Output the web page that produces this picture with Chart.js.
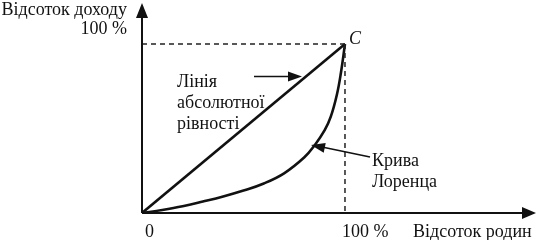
<!DOCTYPE html>
<html><head><meta charset="utf-8">
<style>html,body{margin:0;padding:0;background:#fff}#wrap{width:538px;height:240px}</style>
<script src="https://cdn.jsdelivr.net/npm/chart.js@4/dist/chart.umd.min.js"></script>
</head><body><div id="wrap"><canvas id="c" width="538" height="240"></canvas></div>
<script>
// Data
const familyShare = [0, 10, 20, 30, 40, 50, 60, 70, 80, 85, 90, 93, 96, 98, 100];
const incomeShare = [0, 1.8, 4, 6.8, 9.8, 13.3, 17.5, 23.5, 33, 40, 49, 57, 70, 83, 100];
const equalityX = [0, 100];
const equalityY = [0, 100];
const xTickLabels = ['0', '100 %'];
const yTickLabels = ['100 %'];
const xAxisTitle = 'Відсоток родин';
const yAxisTitle = 'Відсоток доходу';
const equalityLabel = ['Лінія', 'абсолютної', 'рівності'];
const lorenzLabel = ['Крива', 'Лоренца'];
const pointLabel = 'C';

const F = '"Liberation Serif", "Times New Roman", serif';
const pts = (xs, ys) => xs.map((x, i) => ({x, y: ys[i]}));

function arrowHead(ctx, x1, y1, x2, y2, len, half) {
  const a = Math.atan2(y2 - y1, x2 - x1);
  ctx.beginPath();
  ctx.moveTo(x2, y2);
  ctx.lineTo(x2 - len * Math.cos(a) + half * Math.sin(a), y2 - len * Math.sin(a) - half * Math.cos(a));
  ctx.lineTo(x2 - len * Math.cos(a) - half * Math.sin(a), y2 - len * Math.sin(a) + half * Math.cos(a));
  ctx.closePath();
  ctx.fill();
}

const decor = {
  id: 'decor',
  afterDatasetsDraw(chart) {
    const ctx = chart.ctx, xs = chart.scales.x, ys = chart.scales.y;
    const X = v => xs.getPixelForValue(v), Y = v => ys.getPixelForValue(v);
    const ox = X(0), oy = Y(0);
    ctx.save();
    ctx.strokeStyle = '#111'; ctx.fillStyle = '#111';
    ctx.lineWidth = 2;
    // axes
    ctx.beginPath(); ctx.moveTo(ox, oy); ctx.lineTo(xs.right - 10, oy); ctx.stroke();
    ctx.beginPath(); ctx.moveTo(ox, oy); ctx.lineTo(ox, ys.top + 10); ctx.stroke();
    arrowHead(ctx, ox, oy, xs.right, oy, 14, 6);
    arrowHead(ctx, ox, oy, ox, ys.top, 15, 6);
    // annotation arrows
    ctx.lineWidth = 1.6;
    ctx.beginPath(); ctx.moveTo(254, 76.5); ctx.lineTo(290, 76.5); ctx.stroke();
    arrowHead(ctx, 254, 76.5, 302, 76.5, 14, 5);
    ctx.beginPath(); ctx.moveTo(370, 157); ctx.lineTo(322, 147); ctx.stroke();
    arrowHead(ctx, 370, 157, 311, 145, 14, 5);
    // texts
    ctx.font = '18px ' + F;
    ctx.textBaseline = 'middle';
    ctx.textAlign = 'right';
    ctx.fillText(yAxisTitle, ox - 15, 10);
    ctx.fillText(yTickLabels[0], ox - 15, 29);
    ctx.textAlign = 'left';
    ctx.fillText(xTickLabels[0], ox + 3, 232);
    ctx.fillText(xTickLabels[1], X(100) - 3, 232);
    ctx.fillText(xAxisTitle, 413, 232);
    equalityLabel.forEach((t, i) => ctx.fillText(t, 177, 82 + i * 21));
    lorenzLabel.forEach((t, i) => ctx.fillText(t, 372, 161 + i * 21));
    ctx.font = 'italic 18px ' + F;
    ctx.fillText(pointLabel, X(100) + 4, Y(100) - 5);
    ctx.restore();
  }
};

new Chart(document.getElementById('c'), {
  type: 'scatter',
  data: {
    datasets: [
      { data: [{x: 0, y: 100}, {x: 100, y: 100}], showLine: true, borderColor: '#222', borderWidth: 1.5, borderDash: [5, 4], pointRadius: 0 },
      { data: [{x: 100, y: 100}, {x: 100, y: 0}], showLine: true, borderColor: '#222', borderWidth: 1.5, borderDash: [5, 4], pointRadius: 0 },
      { data: pts(equalityX, equalityY), showLine: true, borderColor: '#111', borderWidth: 2.6, pointRadius: 0 },
      { data: pts(familyShare, incomeShare), showLine: true, borderColor: '#111', borderWidth: 2.6, pointRadius: 0, tension: 0.4 }
    ]
  },
  options: {
    responsive: false, animation: false, devicePixelRatio: 1,
    layout: { padding: { left: 142, right: 2, top: 3, bottom: 27 } },
    plugins: { legend: { display: false }, tooltip: { enabled: false } },
    scales: {
      x: { type: 'linear', display: false, min: 0, max: 194.1 },
      y: { type: 'linear', display: false, min: 0, max: 124.3 }
    }
  },
  plugins: [decor]
});
</script></body></html>
